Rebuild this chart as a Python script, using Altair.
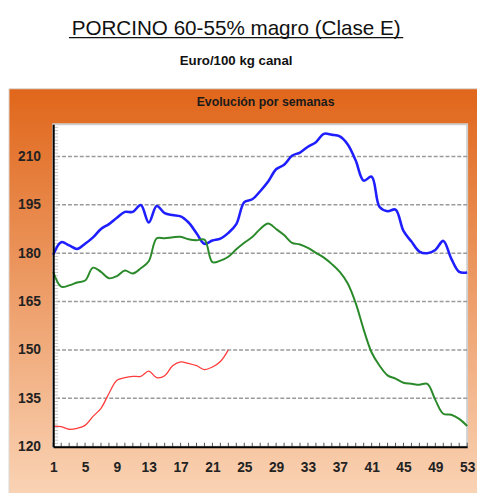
import altair as alt
import pandas as pd

# ---- data ----
weeks = list(range(1, 54))
x_label_weeks = list(range(1, 54, 4))
y_label_values = [120, 135, 150, 165, 180, 195, 210]

serie_azul = [179.5, 183.4, 182.4, 181.3, 182.9, 184.9, 187.5, 189.0, 191.0, 192.8,
              192.8, 194.9, 189.5, 194.6, 192.4, 191.8, 191.4, 189.5, 186.2, 182.9,
              183.9, 184.5, 186.3, 189.0, 195.8, 196.7, 199.2, 202.2, 206.0, 207.4,
              210.2, 211.2, 213.0, 214.4, 217.0, 216.7, 216.2, 213.7, 208.7, 202.5,
              203.7, 194.3, 193.0, 193.5, 186.9, 183.6, 180.5, 180.0, 181.0, 183.8,
              178.3, 174.2, 174.0]
serie_verde = [174.2, 169.6, 170.0, 170.9, 171.5, 175.5, 174.2, 172.2, 172.9, 174.6,
               173.7, 175.3, 177.5, 184.6, 184.6, 184.9, 185.1, 184.3, 184.0, 184.2,
               177.2, 177.7, 178.9, 181.2, 183.2, 185.0, 187.5, 189.2, 187.5, 185.6,
               183.2, 182.7, 181.6, 180.1, 178.6, 176.6, 174.2, 170.6, 164.5, 156.3,
               149.2, 145.1, 142.1, 141.1, 139.8, 139.5, 139.2, 139.5, 134.5, 130.2,
               129.9, 128.6, 126.4]
serie_roja = [126.4, 126.2, 125.4, 125.7, 126.6, 129.4, 131.9, 136.5, 140.6, 141.4,
              141.8, 141.8, 143.4, 141.4, 142.0, 145.1, 146.3, 145.8, 145.1, 143.9,
              144.7, 146.4, 150.0]

series_names = ["azul", "verde", "roja"]
series_colors = ["#1E1EFF", "#2A8A2A", "#FF3B3B"]

rows = []
for name, vals in zip(series_names, [serie_azul, serie_verde, serie_roja]):
    for w, v in zip(weeks, vals):
        rows.append({"semana": w, "valor": v, "serie": name})
df = pd.DataFrame(rows)

W, H = 421, 328
FONT = "Liberation Sans"

xscale = alt.Scale(domain=[1, 53], nice=False, zero=False)
yscale = alt.Scale(domain=[120, 220], nice=False, zero=False)
axis_style = dict(
    title=None, zindex=2, grid=False, ticks=False, tickSize=0,
    domainColor="#000000", domainWidth=2,
    labelFont=FONT, labelFontSize=14, labelFontWeight="bold", labelColor="#222222",
    labelFlush=False, labelOverlap=False, labelBound=False,
)
xaxis = alt.Axis(values=x_label_weeks, labelPadding=14, **axis_style)
yaxis = alt.Axis(values=y_label_values, labelPadding=13, **axis_style)

one = pd.DataFrame({"k": [0]})

orange = alt.Gradient(
    gradient="linear", x1=0, x2=0, y1=0, y2=1,
    stops=[alt.GradientStop(offset=0, color="#E0661A"),
           alt.GradientStop(offset=1, color="#FAD4B6")],
)

bg = alt.Chart(one).mark_rect(fill=orange, stroke="#d9d9d9", strokeWidth=1).encode(
    x=alt.value(-45), x2=alt.value(432), y=alt.value(-36), y2=alt.value(380)
)
plotbg = alt.Chart(one).mark_rect(fill="white", stroke="#cfcfcf", strokeWidth=2).encode(
    x=alt.value(0), x2=alt.value(W), y=alt.value(0), y2=alt.value(H)
)

grid = alt.Chart(pd.DataFrame({"v": y_label_values[1:]})).mark_rule(
    color="#9a9a9a", strokeWidth=1.5, strokeDash=[4, 2]
).encode(y=alt.Y("v:Q", scale=yscale, axis=yaxis))

minor_y = alt.Chart(pd.DataFrame({"v": list(range(121, 220))})).mark_rule(
    color="#c4c4c4", strokeWidth=1
).encode(y=alt.Y("v:Q", scale=yscale, axis=yaxis), x=alt.value(1), x2=alt.value(5))

ticks_x = alt.Chart(pd.DataFrame({"semana": weeks})).mark_rule(
    color="#555555", strokeWidth=1
).encode(x=alt.X("semana:Q", scale=xscale, axis=xaxis), y=alt.value(H - 4), y2=alt.value(H))

lines = []
for name, col, sw in zip(series_names, series_colors, [2.6, 2.0, 1.3]):
    lines.append(
        alt.Chart(df[df["serie"] == name]).mark_line(
            color=col, strokeWidth=sw, interpolate="catmull-rom"
        ).encode(
            x=alt.X("semana:Q", scale=xscale, axis=xaxis),
            y=alt.Y("valor:Q", scale=yscale, axis=yaxis),
        )
    )

title = alt.Chart(one).mark_text(
    text="PORCINO 60-55% magro (Clase E)", font=FONT, fontSize=21,
    color="#111111", align="center", baseline="alphabetic"
).encode(x=alt.value(186), y=alt.value(-90.5))
underline = alt.Chart(one).mark_rule(color="#111111", strokeWidth=1.2).encode(
    x=alt.value(16), x2=alt.value(356), y=alt.value(-88)
)
subtitle = alt.Chart(one).mark_text(
    text="Euro/100 kg canal", font=FONT, fontSize=13.5, fontWeight="bold",
    color="#111111", align="center", baseline="alphabetic"
).encode(x=alt.value(186), y=alt.value(-60))
panel_title = alt.Chart(one).mark_text(
    text="Evolución por semanas", font=FONT, fontSize=12.5, fontWeight="bold",
    color="#1a1a1a", align="center", baseline="alphabetic"
).encode(x=alt.value(216), y=alt.value(-18))

chart = alt.layer(
    bg, plotbg, grid, minor_y, ticks_x, *lines, title, underline, subtitle, panel_title
).properties(
    width=W, height=H,
    autosize=alt.AutoSizeParams(type="none"),
    padding={"left": 46, "top": 114, "right": 10, "bottom": 43},
).configure_view(stroke=None)

chart.save("out.html", embed_options={"renderer": "svg", "actions": False})
